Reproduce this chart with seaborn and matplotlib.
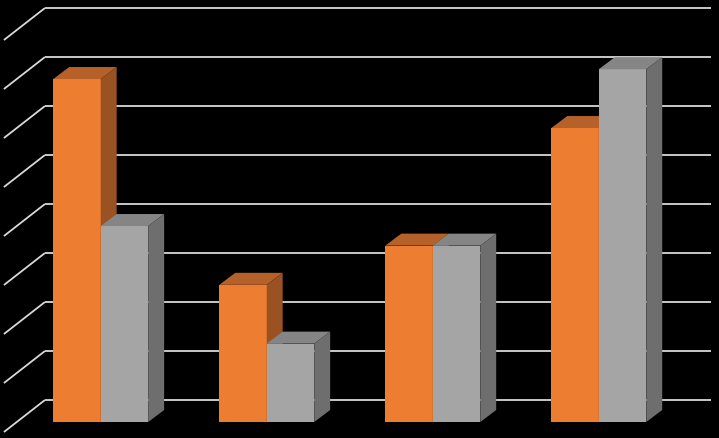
import matplotlib

matplotlib.use("Agg")
import matplotlib.pyplot as plt
import numpy as np
import pandas as pd
import seaborn as sns
from matplotlib.patches import Polygon


CATEGORIES = ["Category 1", "Category 2", "Category 3", "Category 4"]
SERIES = ["Series 1", "Series 2"]
SERIES_1 = [7.0, 2.8, 3.6, 6.0]
SERIES_2 = [4.0, 1.6, 3.6, 7.2]
GRID_STEPS = np.arange(0, 9)

# Front, top and side shades for each series (fake 3D look).
FRONT = {"Series 1": "#ED7D31", "Series 2": "#A5A5A5"}
TOP = {"Series 1": "#B6612A", "Series 2": "#858585"}
SIDE = {"Series 1": "#9A5222", "Series 2": "#6E6E6E"}
GRID_COLOR = "#D9D9D9"

# Depth of each bar, in data units (x in categories, y in value units).
DEPTH_X = 0.096
DEPTH_Y = 0.245
# Back wall sits behind the bar fronts, the floor edge sits in front of them.
WALL_SHIFT_Y = 0.449
FLOOR_SHIFT_Y = -0.204
WALL_LEFT, WALL_RIGHT = -0.336, 3.676
FLOOR_LEFT = -0.583


def build_frame() -> pd.DataFrame:
    return pd.DataFrame(
        {
            "category": CATEGORIES * 2,
            "series": [SERIES[0]] * len(CATEGORIES) + [SERIES[1]] * len(CATEGORIES),
            "value": SERIES_1 + SERIES_2,
        }
    )


def add_depth(ax, container, name, zorder):
    # Add a top face and a right side face to each bar in the container.
    for bar in container.patches:
        bar.set_zorder(zorder)
        x0, y0 = bar.get_x(), bar.get_y()
        w, h = bar.get_width(), bar.get_height()
        top = [(x0, y0 + h), (x0 + w, y0 + h),
               (x0 + w + DEPTH_X, y0 + h + DEPTH_Y), (x0 + DEPTH_X, y0 + h + DEPTH_Y)]
        side = [(x0 + w, y0), (x0 + w + DEPTH_X, y0 + DEPTH_Y),
                (x0 + w + DEPTH_X, y0 + h + DEPTH_Y), (x0 + w, y0 + h)]
        ax.add_patch(Polygon(top, closed=True, facecolor=TOP[name],
                             edgecolor="none", zorder=zorder))
        ax.add_patch(Polygon(side, closed=True, facecolor=SIDE[name],
                             edgecolor="none", zorder=zorder))


def main() -> None:
    df = build_frame()

    fig = plt.figure(figsize=(7.19, 4.38), dpi=100, facecolor="black")
    ax = fig.add_axes([0, 0, 1, 1])
    ax.set_facecolor("black")

    # Back wall gridlines plus the perspective lines running to the front.
    ax.hlines(GRID_STEPS + WALL_SHIFT_Y, WALL_LEFT, WALL_RIGHT,
              color=GRID_COLOR, linewidth=1.3, zorder=1)
    for k in GRID_STEPS:
        ax.plot([FLOOR_LEFT, WALL_LEFT], [k + FLOOR_SHIFT_Y, k + WALL_SHIFT_Y],
                color=GRID_COLOR, linewidth=1.3, zorder=1, solid_capstyle="butt")

    sns.barplot(
        data=df, x="category", y="value", hue="series",
        order=CATEGORIES, hue_order=SERIES, palette=FRONT,
        width=0.572, gap=0, saturation=1, linewidth=0,
        legend=False, errorbar=None, ax=ax,
    )

    for i, (container, name) in enumerate(zip(ax.containers, SERIES)):
        add_depth(ax, container, name, zorder=2 + i)

    ax.set_xlim(-0.6066, 3.724)
    ax.set_ylim(-0.326, 8.613)
    ax.axis("off")

    fig.savefig("out.png", dpi=100, facecolor="black")
    plt.close(fig)


if __name__ == "__main__":
    main()
